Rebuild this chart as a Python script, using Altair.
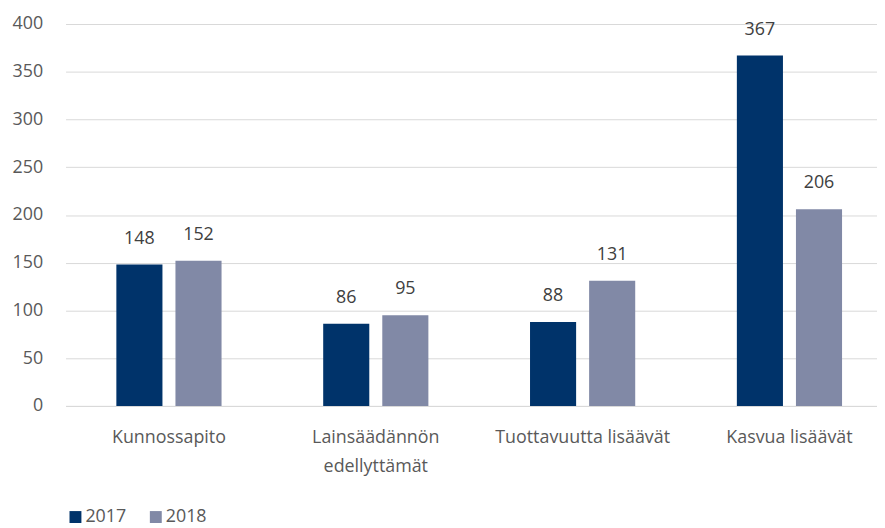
import altair as alt
import pandas as pd

categories = ["Kunnossapito", "Lainsäädännön edellyttämät", "Tuottavuutta lisäävät", "Kasvua lisäävät"]
years = ["2017", "2018"]
values_2017 = [148, 86, 88, 367]
values_2018 = [152, 95, 131, 206]
y_ticks = [0, 50, 100, 150, 200, 250, 300, 350, 400]

rows = []
for c, a, b in zip(categories, values_2017, values_2018):
    rows.append({"category": c, "year": "2017", "value": a})
    rows.append({"category": c, "year": "2018", "value": b})
df = pd.DataFrame(rows)

FONT = "Open Sans"
FS = 18

base = alt.Chart(df).encode(
    x=alt.X(
        "category:N",
        sort=categories,
        scale=alt.Scale(paddingInner=0, paddingOuter=0),
        axis=alt.Axis(
            title=None, labelAngle=0, ticks=False, grid=False,
            domain=True, domainColor="#d9d9d9", domainWidth=1,
            labelFont=FONT, labelFontSize=FS, labelColor="#595959",
            labelPadding=23, labelLimit=400, labelLineHeight=29,
            labelExpr="datum.label == 'Lainsäädännön edellyttämät' ? ['Lainsäädännön', 'edellyttämät'] : datum.label",
        ),
    ),
    xOffset=alt.XOffset("year:N", sort=years, scale=alt.Scale(paddingInner=0.22, paddingOuter=0.86)),
    y=alt.Y(
        "value:Q",
        scale=alt.Scale(domain=[0, 400], nice=False),
        axis=alt.Axis(
            values=y_ticks, title=None, domain=False, ticks=False,
            gridColor="#d9d9d9", gridWidth=1,
            labelFont=FONT, labelFontSize=FS, labelColor="#595959", labelPadding=23,
        ),
    ),
)

bars = base.mark_bar().encode(
    color=alt.Color(
        "year:N",
        scale=alt.Scale(domain=years, range=["#00336A", "#8189A6"]),
        legend=alt.Legend(
            title=None, orient="none", legendX=1, legendY=488, direction="horizontal",
            symbolType="square", symbolSize=144, symbolStrokeWidth=0,
            labelFont=FONT, labelFontSize=FS, labelColor="#595959",
            labelOffset=1, columnPadding=20, padding=0,
        ),
    )
)

labels = base.mark_text(dy=-21, baseline="alphabetic", font=FONT, fontSize=FS, color="#404040").encode(
    text=alt.Text("value:Q")
)

chart = (
    alt.layer(bars, labels)
    .properties(
        width=834, height=385,
        autosize=alt.AutoSizeParams(type="none"),
        padding={"left": 58, "top": 14, "right": -16, "bottom": 130},
    )
    .configure_view(stroke=None)
)

chart.save("out.html", embed_options={"renderer": "svg", "actions": False})
